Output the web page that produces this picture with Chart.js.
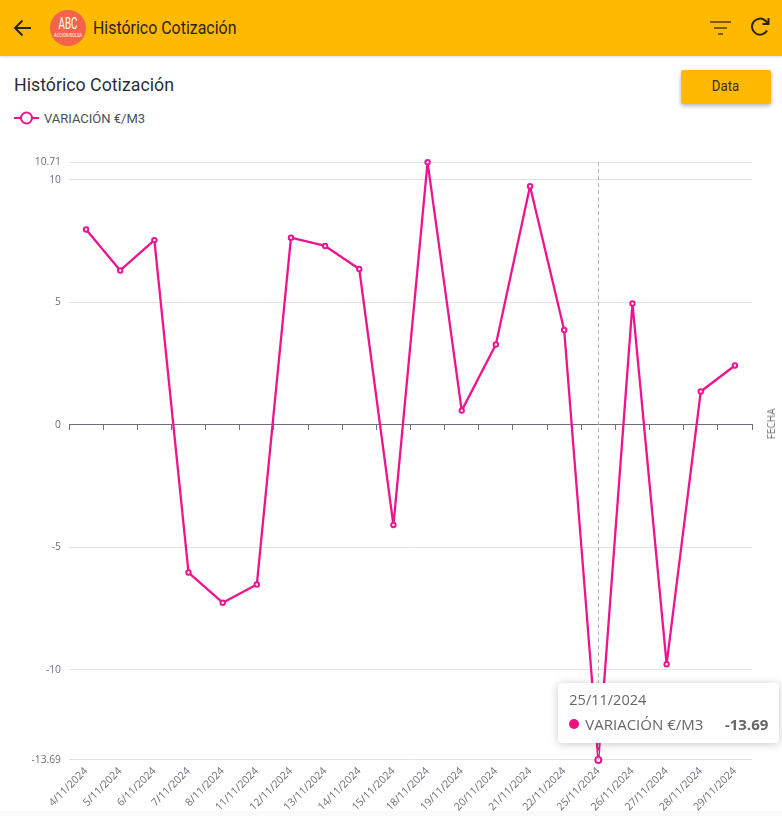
<!DOCTYPE html>
<html><head><meta charset="utf-8">
<script src="https://cdn.jsdelivr.net/npm/chart.js@4/dist/chart.umd.min.js"></script>
<style>
html,body{margin:0;padding:0;background:#fff;width:782px;height:816px;overflow:hidden;font-family:Roboto,sans-serif}
#bar{position:absolute;left:0;top:0;width:782px;height:56px;background:#ffb900;box-shadow:0 1px 2px rgba(0,0,0,.15)}
#barTitle{position:absolute;left:93px;top:17px;font-size:18px;line-height:22px;color:#2b2410;transform-origin:left center;transform:scaleX(.885);white-space:nowrap}
#logo{position:absolute;left:50px;top:10px;width:36px;height:36px;border-radius:50%;background:#f4634b;color:#fff;text-align:center;overflow:hidden}
#logo b{display:block;font-weight:400;font-size:17px;line-height:17px;margin-top:5px;transform:scaleX(.58)}
#logo i{display:block;font-style:normal;font-size:5px;line-height:6px;margin-top:0;transform:scaleX(.8)}
#title{position:absolute;left:14px;top:73px;font-size:19px;line-height:24px;color:#2a2f36;transform-origin:left center;transform:scaleX(.935);white-space:nowrap}
#dataBtn{position:absolute;left:681px;top:70px;width:90px;height:34px;background:#ffb900;border-radius:2px;box-shadow:0 2px 4px rgba(0,0,0,.28);text-align:center;line-height:33px;font-size:15px;color:#3a2e08}
#dataBtn span{display:inline-block;transform:scaleX(.88)}
#legend{position:absolute;left:14px;top:109px;height:18px;display:flex;align-items:center;font-size:13px;color:#4a4f55}
#legend span{margin-left:5px}
#chartBox{position:absolute;left:0;top:148px;width:782px;height:668px}
#tip{position:absolute;display:none;width:221px;height:60px;background:#fff;border-radius:4px;box-shadow:0 1px 8px rgba(0,0,0,.22);color:#666;font-family:"Open Sans",sans-serif;box-sizing:border-box;padding:0 11px;z-index:5;overflow:hidden}
#tipT{font-size:14.5px;line-height:20px;padding-top:7px}
#tipR{display:flex;align-items:center;font-size:15px;line-height:20px;margin-top:4px}
#tipD{width:10px;height:10px;border-radius:50%;background:#f0107f;margin-right:6px}
#tipV{margin-left:auto;font-weight:700}
#fecha{position:absolute;left:771px;top:424px;font-size:10px;color:#6e7079;font-family:"Open Sans",sans-serif;transform:translate(-50%,-50%) rotate(-90deg);white-space:nowrap}
#foot{position:absolute;left:0;top:811px;width:782px;height:5px;background:#fafafa}
</style></head><body>
<div id="foot"></div>
<div id="bar">
<svg style="position:absolute;left:12px;top:17px" width="22" height="22" viewBox="0 0 22 22" fill="none" stroke="#2b2410" stroke-width="2"><path d="M19 11H3M10.5 3.5L3 11l7.5 7.5"/></svg>
<div id="logo"><b>ABC</b><i>ACCIÓN BOLSA</i></div>
<div id="barTitle">Histórico Cotización</div>
<svg style="position:absolute;left:710px;top:20px" width="21" height="16" viewBox="0 0 21 16" stroke="#7d5c05" stroke-width="2"><path d="M0 2h21M4 8h13M8 14h5"/></svg>
<svg style="position:absolute;left:749px;top:16px" width="22" height="22" viewBox="0 0 22 22" fill="none" stroke="#2b2410" stroke-width="2"><path d="M18 14.5A8 8 0 1 1 16.5 4.8L19 7.5"/><path d="M19.5 2v6h-6" /></svg>
</div>
<div id="title">Histórico Cotización</div>
<div id="dataBtn"><span>Data</span></div>
<div id="legend"><svg width="25" height="18"><path d="M0 9h25" stroke="#ee1490" stroke-width="2"/><circle cx="12.5" cy="9" r="5.5" fill="#fff" stroke="#ee1490" stroke-width="2"/></svg><span id="legendText"></span></div>
<div id="chartBox"><canvas id="c"></canvas></div>
<div id="fecha"></div>
<div id="tip"><div id="tipT"></div><div id="tipR"><div id="tipD"></div><div id="tipN"></div><div id="tipV"></div></div></div>
<script>
const categories = ["4/11/2024","5/11/2024","6/11/2024","7/11/2024","8/11/2024","11/11/2024","12/11/2024","13/11/2024","14/11/2024","15/11/2024","18/11/2024","19/11/2024","20/11/2024","21/11/2024","22/11/2024","25/11/2024","26/11/2024","27/11/2024","28/11/2024","29/11/2024"];
const variacion = [7.96,6.29,7.53,-6.04,-7.27,-6.53,7.63,7.29,6.35,-4.10,10.71,0.57,3.27,9.73,3.86,-13.69,4.94,-9.78,1.35,2.41];
const yTicks = [-13.69,-10,-5,0,5,10,10.71];
const seriesName = "VARIACIÓN €/M3";
const xAxisName = "FECHA";
const activeIndex = 15;
const PINK = "#ee1490";
const LABEL_GREY = "#6e7079";
document.getElementById('legendText').textContent = seriesName;
document.getElementById('fecha').textContent = xAxisName;

function externalTip(ctx){
  const t = ctx.tooltip, el = document.getElementById('tip');
  if(!t.dataPoints || !t.dataPoints.length || t.opacity===0){el.style.display='none';return;}
  const p = t.dataPoints[0];
  document.getElementById('tipT').textContent = p.label;
  document.getElementById('tipN').textContent = p.dataset.label;
  document.getElementById('tipV').textContent = p.formattedValue;
  const r = ctx.chart.canvas.getBoundingClientRect();
  el.style.display='block';
  el.style.left = (r.left + t.caretX - 40) + 'px';
  el.style.top = (r.top + t.caretY - 77) + 'px';
}
const crosshair = {
  id:'crosshair',
  afterDatasetsDraw(chart){
    const a = chart.getActiveElements();
    if(!a.length) return;
    const x = a[0].element.x, {top,bottom} = chart.chartArea, g = chart.ctx;
    g.save();g.beginPath();g.setLineDash([4,3]);g.strokeStyle='#b5b5b5';g.lineWidth=1;
    g.moveTo(Math.round(x)+.5,top);g.lineTo(Math.round(x)+.5,bottom);g.stroke();g.restore();
  }
};
const chart = new Chart(document.getElementById('c'),{
  type:'line',
  data:{labels:categories,datasets:[{label:seriesName,data:variacion,xAxisID:'x',yAxisID:'y',
    borderColor:PINK,borderWidth:2.3,backgroundColor:'#fff',tension:0,borderJoinStyle:'round',
    pointRadius:2.2,pointBorderWidth:2,pointBorderColor:PINK,pointBackgroundColor:'#fff',
    pointHoverRadius:3,pointHoverBorderWidth:2,pointHoverBackgroundColor:'#fff',pointHoverBorderColor:PINK,clip:false}]},
  options:{
    responsive:true,maintainAspectRatio:false,animation:false,
    events:[],
    layout:{padding:{top:0,right:30,left:0,bottom:0}},
    plugins:{legend:{display:false},
      tooltip:{enabled:false,external:externalTip,mode:'index',intersect:false,
        callbacks:{label:c=>c.formattedValue}}},
    scales:{
      x:{type:'category',position:{y:0},offset:true,
        grid:{display:true,drawOnChartArea:false,drawTicks:true,tickLength:5,color:'#6e7079',offset:true,tickColor:'#6e7079'},
        border:{display:true,color:'#6e7079',width:1},
        ticks:{display:false}},
      xLabels:{type:'category',position:'bottom',offset:true,labels:categories,
        grid:{display:false,drawTicks:false},border:{display:false},
        ticks:{autoSkip:false,minRotation:45,maxRotation:45,padding:5,color:LABEL_GREY,font:{family:'"Open Sans"',size:10.5}},
        afterFit(s){s.height=56;}},
      y:{type:'linear',min:-13.69,max:10.71,
        afterBuildTicks(s){s.ticks=yTicks.map(v=>({value:v}));},
        afterFit(s){s.width=69;},
        grid:{color:'#e2e2e2',drawTicks:false,lineWidth:1},
        border:{display:false},
        ticks:{padding:8,color:LABEL_GREY,font:{family:'"Open Sans"',size:10.3},autoSkip:false,
          callback:v=>String(v)}}
    }
  },
  plugins:[crosshair]
});
chart.setActiveElements([{datasetIndex:0,index:activeIndex}]);
chart.tooltip.setActiveElements([{datasetIndex:0,index:activeIndex}],{x:chart.chartArea.left,y:chart.chartArea.top});
chart.update();
</script>
</body></html>
